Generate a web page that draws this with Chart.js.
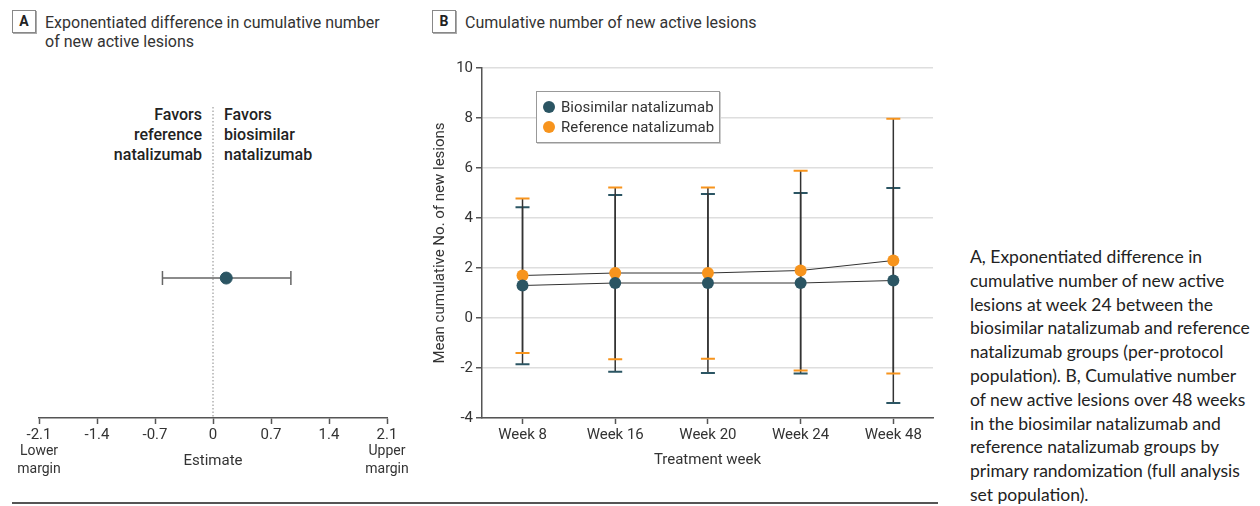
<!DOCTYPE html>
<html>
<head>
<meta charset="utf-8">
<script src="https://cdn.jsdelivr.net/npm/chart.js@4"></script>
<style>
  body { margin: 0; background: #fff; width: 1260px; height: 506px; position: relative; overflow: hidden;
         font-family: Roboto, "Liberation Sans", sans-serif; color: #333; }
  .abs { position: absolute; }
  .tag { position: absolute; width: 22px; height: 21px; border: 1px solid #888; box-shadow: 1px 1px 0 #aaa;
         font-weight: bold; font-size: 14px; text-align: center; line-height: 21px; color: #222; }
  .head { position: absolute; font-size: 16px; line-height: 19px; color: #333; white-space: nowrap; }
  .favor { position: absolute; font-size: 16px; line-height: 20px; font-weight: 500; color: #222; white-space: nowrap; }
  .margin { position: absolute; font-size: 14px; line-height: 18px; text-align: center; width: 60px; color: #333; }
  #legend { position: absolute; left: 536px; top: 91px; width: 182px; height: 50px; border: 1px solid #999;
            box-shadow: 1px 1px 0 #ccc; background: #fff; font-size: 15px; color: #333; }
  #legend div { position: absolute; left: 24px; white-space: nowrap; }
  #legend span { position: absolute; width: 12px; height: 12px; border-radius: 50%; left: -18px; top: 3px; }
  #caption { position: absolute; left: 970px; top: 245px; width: 290px; font-family: Lato, sans-serif;
             font-size: 17.5px; line-height: 23.8px; color: #222; white-space: nowrap; }
  #rule { position: absolute; left: 12px; top: 502px; width: 926px; height: 2px; background: #555; }
</style>
</head>
<body>
<div class="tag" style="left:12px;top:10px;">A</div>
<div class="head" style="left:45px;top:13px;">Exponentiated difference in cumulative number<br>of new active lesions</div>
<div class="tag" style="left:432px;top:10px;">B</div>
<div class="head" style="left:465px;top:13px;">Cumulative number of new active lesions</div>

<div class="favor" style="left:80px;top:105px;width:122px;text-align:right;">Favors<br>reference<br>natalizumab</div>
<div class="favor" style="left:224px;top:105px;">Favors<br>biosimilar<br>natalizumab</div>

<div class="abs" style="left:0;top:100px;width:420px;height:390px;"><canvas id="chartA"></canvas></div>
<div class="margin" style="left:9px;top:441px;">Lower<br>margin</div>
<div class="margin" style="left:357px;top:441px;">Upper<br>margin</div>

<div class="abs" style="left:420px;top:55px;width:520px;height:425px;"><canvas id="chartB"></canvas></div>
<div id="legend">
  <div style="top:6px;"><span style="background:#2b5563;"></span>Biosimilar natalizumab</div>
  <div style="top:26px;"><span style="background:#f7941d;"></span>Reference natalizumab</div>
</div>

<div id="rule"></div>
<div id="caption">A, Exponentiated difference in<br>cumulative number of new active<br>lesions at week 24 between the<br>biosimilar natalizumab and reference<br>natalizumab groups (per-protocol<br>population). B, Cumulative number<br>of new active lesions over 48 weeks<br>in the biosimilar natalizumab and<br>reference natalizumab groups by<br>primary randomization (full analysis<br>set population).</div>

<script>
// panel A values
const estA = [0.16];
const lowA = [-0.61];
const highA = [0.94];
const ticksA = [-2.1, -1.4, -0.7, 0, 0.7, 1.4, 2.1];

// panel B values
const weeks = ["Week 8", "Week 16", "Week 20", "Week 24", "Week 48"];
const bioMean = [1.3, 1.4, 1.4, 1.4, 1.5];
const bioLow = [-1.85, -2.15, -2.2, -2.22, -3.4];
const bioHigh = [4.43, 4.92, 4.96, 5.0, 5.2];
const refMean = [1.7, 1.8, 1.8, 1.9, 2.3];
const refLow = [-1.4, -1.65, -1.63, -2.1, -2.22];
const refHigh = [4.78, 5.22, 5.22, 5.89, 7.97];
const ticksB = [-4, -2, 0, 2, 4, 6, 8, 10];

const teal = "#2b5563";
const orange = "#f7941d";
const tickFont = { family: "Roboto", size: 15 };

// error bars, drawn under the points
const errorBars = {
    id: "errorBars",
    beforeDatasetsDraw(chart) {
        const ctx = chart.ctx;
        chart.data.datasets.forEach((ds, di) => {
            if (!ds.errLow) return;
            const meta = chart.getDatasetMeta(di);
            const xs = chart.scales.x, ys = chart.scales.y;
            ctx.save();
            meta.data.forEach((pt, i) => {
                if (ds.horizontal) {
                    const x1 = xs.getPixelForValue(ds.errLow[i]);
                    const x2 = xs.getPixelForValue(ds.errHigh[i]);
                    ctx.strokeStyle = ds.barColor;
                    ctx.lineWidth = 1.5;
                    ctx.beginPath();
                    ctx.moveTo(x1, pt.y); ctx.lineTo(x2, pt.y);
                    ctx.moveTo(x1, pt.y - 7); ctx.lineTo(x1, pt.y + 7);
                    ctx.moveTo(x2, pt.y - 7); ctx.lineTo(x2, pt.y + 7);
                    ctx.stroke();
                } else {
                    const y1 = ys.getPixelForValue(ds.errLow[i]);
                    const y2 = ys.getPixelForValue(ds.errHigh[i]);
                    ctx.strokeStyle = ds.barColor;
                    ctx.lineWidth = 1.5;
                    ctx.beginPath();
                    ctx.moveTo(pt.x, y1); ctx.lineTo(pt.x, y2);
                    ctx.stroke();
                    ctx.strokeStyle = ds.capColor;
                    ctx.lineWidth = 2;
                    ctx.beginPath();
                    ctx.moveTo(pt.x - 7, y1); ctx.lineTo(pt.x + 7, y1);
                    ctx.moveTo(pt.x - 7, y2); ctx.lineTo(pt.x + 7, y2);
                    ctx.stroke();
                }
            });
            ctx.restore();
        });
    }
};

// dotted no-difference line for panel A
const zeroLine = {
    id: "zeroLine",
    beforeDatasetsDraw(chart) {
        const ctx = chart.ctx, a = chart.chartArea;
        const x = chart.scales.x.getPixelForValue(0);
        ctx.save();
        ctx.strokeStyle = "#888";
        ctx.lineWidth = 1;
        ctx.setLineDash([1.5, 2]);
        ctx.beginPath();
        ctx.moveTo(x, a.top); ctx.lineTo(x, a.bottom);
        ctx.stroke();
        ctx.restore();
    }
};

new Chart(document.getElementById("chartA"), {
    type: "scatter",
    data: {
        datasets: [{
            data: estA.map(v => ({ x: v, y: 0.45 })),
            errLow: lowA,
            errHigh: highA,
            horizontal: true,
            barColor: "#666",
            backgroundColor: teal,
            borderColor: teal,
            pointRadius: 6,
        }],
    },
    options: {
        responsive: true,
        maintainAspectRatio: false,
        animation: false,
        layout: { padding: { left: 39, right: 33, top: 7, bottom: 0 } },
        plugins: { legend: { display: false }, tooltip: { enabled: false } },
        scales: {
            x: {
                type: "linear",
                min: -2.1,
                max: 2.1,
                afterBuildTicks: s => { s.ticks = ticksA.map(v => ({ value: v })); },
                afterFit: s => { s.height = 72; },
                grid: { drawOnChartArea: false, tickLength: 6, tickColor: "#555", tickWidth: 1.5 },
                border: { color: "#555", width: 1.5 },
                ticks: { font: tickFont, color: "#333", padding: 2, maxRotation: 0,
                         callback: v => String(v) },
                title: { display: true, text: "Estimate", font: tickFont, color: "#333", padding: { top: 0, bottom: 20 } },
            },
            y: { display: false, min: 0, max: 1 },
        },
    },
    plugins: [zeroLine, errorBars],
});

new Chart(document.getElementById("chartB"), {
    type: "line",
    data: {
        datasets: [
            {
                label: "Biosimilar natalizumab",
                data: bioMean.map((v, i) => ({ x: i + 1, y: v })),
                errLow: bioLow,
                errHigh: bioHigh,
                barColor: "#333",
                capColor: teal,
                borderColor: "#333",
                borderWidth: 1,
                backgroundColor: teal,
                pointBackgroundColor: teal,
                pointBorderWidth: 0,
                pointRadius: 6,
            },
            {
                label: "Reference natalizumab",
                data: refMean.map((v, i) => ({ x: i + 1, y: v })),
                errLow: refLow,
                errHigh: refHigh,
                barColor: "#333",
                capColor: orange,
                borderColor: "#333",
                borderWidth: 1,
                backgroundColor: orange,
                pointBackgroundColor: orange,
                pointBorderWidth: 0,
                pointRadius: 6,
            },
        ],
    },
    options: {
        responsive: true,
        maintainAspectRatio: false,
        animation: false,
        layout: { padding: { left: 0, right: 7, top: 13, bottom: 0 } },
        plugins: { legend: { display: false }, tooltip: { enabled: false } },
        scales: {
            x: {
                type: "linear",
                min: 0.563,
                max: 5.428,
                afterBuildTicks: s => { s.ticks = weeks.map((w, i) => ({ value: i + 1 })); },
                afterFit: s => { s.height = 62; },
                grid: { drawOnChartArea: false, tickLength: 6, tickColor: "#555", tickWidth: 1.5 },
                border: { color: "#555", width: 1.5 },
                ticks: { font: tickFont, color: "#333", padding: 2, maxRotation: 0,
                         callback: v => weeks[v - 1] },
                title: { display: true, text: "Treatment week", font: tickFont, color: "#333", padding: { top: 0, bottom: 11 } },
            },
            y: {
                min: -4,
                max: 10,
                afterBuildTicks: s => { s.ticks = ticksB.map(v => ({ value: v })); },
                afterFit: s => { s.width = 62; },
                grid: { color: "#dedede", lineWidth: 1.5, tickLength: 6, tickColor: "#555", tickWidth: 1.5 },
                border: { color: "#555", width: 1.5 },
                ticks: { font: tickFont, color: "#333", padding: 3 },
                title: { display: true, text: "Mean cumulative No. of new lesions", font: tickFont, color: "#333", padding: { top: 11, bottom: 0 } },
            },
        },
    },
    plugins: [errorBars],
});
</script>
</body>
</html>
